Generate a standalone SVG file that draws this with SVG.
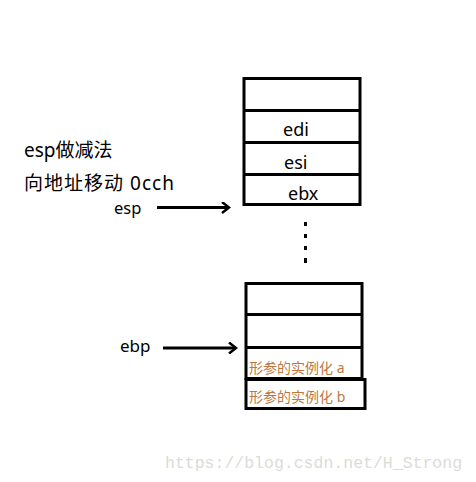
<svg xmlns="http://www.w3.org/2000/svg" width="476" height="482" viewBox="0 0 476 482">
<style>
.box{fill:#fff;stroke:#000;stroke-width:3}
.t{font-family:"Noto Sans","Noto Sans CJK SC",sans-serif;fill:#000}
.o{font-family:"Noto Sans","Noto Sans CJK SC",sans-serif;fill:#c0773f;font-size:14px}
.ln{stroke:#000;stroke-width:3;fill:none}
.wm{font-family:"Liberation Mono",monospace;fill:#dcdcd6;font-size:16.5px}
</style>
<defs>
<marker id="ah" markerWidth="10" markerHeight="12" refX="8" refY="6" orient="auto" markerUnits="userSpaceOnUse">
<path d="M1,0.5 L8,6 L1,11.5" fill="none" stroke="#000" stroke-width="2.5"/>
</marker>
</defs>
<rect width="476" height="482" fill="#fff"/>
<g id="top-stack">
<rect class="box" x="244" y="78.5" width="116" height="126"/>
<line class="ln" x1="244" y1="110.5" x2="360" y2="110.5"/>
<line class="ln" x1="244" y1="142.5" x2="360" y2="142.5"/>
<line class="ln" x1="244" y1="174.5" x2="360" y2="174.5"/>
<text class="t" x="283" y="136" font-size="18">edi</text>
<text class="t" x="284" y="169" font-size="18">esi</text>
<text class="t" x="288" y="200" font-size="18">ebx</text>
</g>
<g id="dots">
<rect x="304" y="222" width="3" height="4"/>
<rect x="304" y="234" width="3" height="4"/>
<rect x="304" y="246" width="3" height="4"/>
<rect x="304" y="258" width="3" height="5"/>
</g>
<g id="bottom-stack">
<rect class="box" x="246" y="283.5" width="116" height="95"/>
<line class="ln" x1="246" y1="314.5" x2="362" y2="314.5"/>
<line class="ln" x1="246" y1="347.5" x2="362" y2="347.5"/>
<rect class="box" x="246" y="379.5" width="119" height="29"/>
<text class="o" x="249" y="373">形参的实例化 a</text>
<text class="o" x="249" y="402">形参的实例化 b</text>
</g>
<g id="labels">
<text class="t" x="24" y="157" font-size="19">esp做减法</text>
<text class="t" x="24" y="190" font-size="19" textLength="150" lengthAdjust="spacing">向地址移动 0cch</text>
<text class="t" x="114" y="214" font-size="16.5">esp</text>
<text class="t" x="120" y="352" font-size="17">ebp</text>
</g>
<g id="connectors">
<line class="ln" x1="157" y1="207.5" x2="229" y2="207.5" marker-end="url(#ah)"/>
<line class="ln" x1="163" y1="348" x2="236" y2="348" marker-end="url(#ah)"/>
</g>
<text class="wm" x="165" y="468">https://blog.csdn.net/H_Strong</text>
</svg>
